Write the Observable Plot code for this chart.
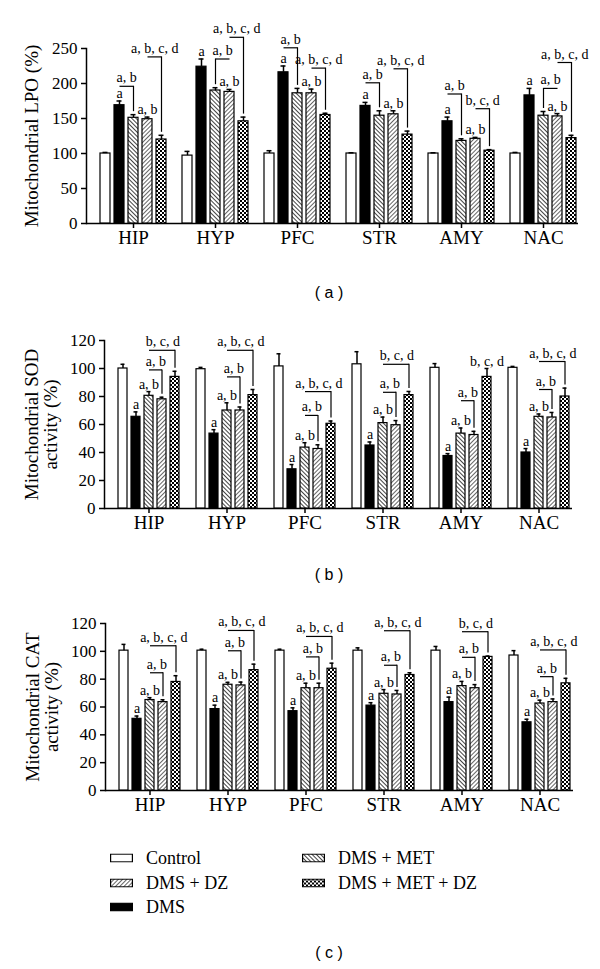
<!DOCTYPE html>
<html><head><meta charset="utf-8">
<script src="https://cdn.jsdelivr.net/npm/d3@7"></script>
<script src="https://cdn.jsdelivr.net/npm/@observablehq/plot@0.6"></script>
<style>
body{margin:0;background:#fff;}
#page{position:relative;width:600px;height:969px;font-family:'Liberation Serif',serif;color:#000;overflow:hidden;}
.panel{position:absolute;left:0;}
.cap{position:absolute;font-family:'Liberation Sans',Arial,sans-serif;font-size:16px;transform:translate(-50%,-50%);white-space:pre;}
.leg{position:absolute;display:flex;align-items:center;font-size:18px;transform:translateY(-50%);white-space:nowrap;}
.leg svg{margin-right:13px;}
</style></head>
<body>
<svg width="0" height="0" style="position:absolute">
<defs>
<pattern id="hatchMET" width="3" height="3" patternUnits="userSpaceOnUse" patternTransform="rotate(-45)">
<rect width="3" height="3" fill="#fff"/><line x1="0.5" y1="0" x2="0.5" y2="3" stroke="#444" stroke-width="1"/></pattern>
<pattern id="hatchDZ" width="3" height="3" patternUnits="userSpaceOnUse" patternTransform="rotate(45)">
<rect width="3" height="3" fill="#fff"/><line x1="0.5" y1="0" x2="0.5" y2="3" stroke="#555" stroke-width="0.9"/></pattern>
<pattern id="checker" width="4" height="4" patternUnits="userSpaceOnUse">
<rect width="4" height="4" fill="#000"/><rect width="2" height="2" fill="#fff"/><rect x="2" y="2" width="2" height="2" fill="#fff"/></pattern>
</defs></svg>
<div id="page"></div>
<script>
const regions = ["HIP", "HYP", "PFC", "STR", "AMY", "NAC"];
const treatments = ["Control", "DMS", "DMS + MET", "DMS + DZ", "DMS + MET + DZ"];

// (a) Mitochondrial LPO (%)
const lpoControl = [100, 97, 100, 100, 100, 100];
const lpoControlErr = [1.5, 6, 4, 1, 1, 1.5];
const lpoDMS = [169, 224, 216, 168, 146, 183];
const lpoDMSErr = [6, 11, 9, 5, 6, 10];
const lpoMET = [151, 190, 186, 154, 118, 154];
const lpoMETErr = [4.5, 4, 7, 7, 3, 6];
const lpoDZ = [149, 188, 186, 156, 121, 153];
const lpoDZErr = [3, 3.5, 6, 5, 2, 4];
const lpoMETDZ = [120, 146, 155, 127, 104, 122];
const lpoMETDZErr = [6, 6, 2.5, 5, 1.5, 4];
const lpoBarLabels = [
  ["HIP", "DMS", "a"], ["HYP", "DMS", "a"], ["PFC", "DMS", "a"], ["STR", "DMS", "a"], ["AMY", "DMS", "a"], ["NAC", "DMS", "a"],
  ["HIP", "DMS + DZ", "a, b"], ["HYP", "DMS + DZ", "a, b"], ["PFC", "DMS + DZ", "a, b"], ["STR", "DMS + DZ", "a, b"], ["AMY", "DMS + DZ", "a, b"], ["NAC", "DMS + DZ", "a, b"]
];
const lpoBrackets = [
  ["HIP", "DMS", "DMS + MET", 196, "a, b"],
  ["HIP", "DMS + DZ", "DMS + MET + DZ", 238, "a, b, c, d"],
  ["HYP", "DMS + DZ", "DMS + MET", 235, "a, b"],
  ["HYP", "DMS + DZ", "DMS + MET + DZ", 266, "a, b, c, d"],
  ["PFC", "DMS", "DMS + MET", 251, "a, b"],
  ["PFC", "DMS + DZ", "DMS + MET + DZ", 222, "a, b, c, d"],
  ["STR", "DMS", "DMS + MET", 201, "a, b"],
  ["STR", "DMS + DZ", "DMS + MET + DZ", 221, "a, b, c, d"],
  ["AMY", "DMS", "DMS + MET", 185, "a, b"],
  ["AMY", "DMS + DZ", "DMS + MET + DZ", 164, "b, c, d"],
  ["NAC", "DMS + DZ", "DMS + MET", 193, "a, b"],
  ["NAC", "DMS + DZ", "DMS + MET + DZ", 230, "a, b, c, d"]
];

// (b) Mitochondrial SOD activity (%)
const sodControl = [100, 99.5, 101.5, 103, 100.5, 100.5];
const sodControlErr = [3, 1.3, 9, 9, 3, 1];
const sodDMS = [65.5, 53.5, 28, 45, 37.5, 40];
const sodDMSErr = [3.5, 2.8, 3.4, 2.5, 1.7, 2.8];
const sodMET = [80.5, 70, 43.5, 61, 53.5, 65.5];
const sodMETErr = [3, 5.5, 3.5, 4.3, 4, 2];
const sodDZ = [78, 70, 42.5, 59.5, 52.5, 65];
const sodDZErr = [1.5, 2.5, 3, 3.3, 2.6, 3.6];
const sodMETDZ = [94, 81, 60.5, 81, 94, 80];
const sodMETDZErr = [4, 4, 2, 2.6, 6, 6];
const sodBarLabels = [
  ["HIP", "DMS", "a"], ["HYP", "DMS", "a"], ["PFC", "DMS", "a"], ["STR", "DMS", "a"], ["AMY", "DMS", "a"], ["NAC", "DMS", "a"],
  ["HIP", "DMS + MET", "a, b"], ["HYP", "DMS + MET", "a, b"], ["PFC", "DMS + MET", "a, b"], ["STR", "DMS + MET", "a, b"], ["AMY", "DMS + MET", "a, b"], ["NAC", "DMS + MET", "a, b"],
  ["AMY", "DMS + MET + DZ", "b, c, d"]
];
const sodBrackets = [
  ["HIP", "DMS + MET", "DMS + DZ", 99, "a, b"],
  ["HIP", "DMS + MET", "DMS + MET + DZ", 113, "b, c, d"],
  ["HYP", "DMS + MET", "DMS + DZ", 94, "a, b"],
  ["HYP", "DMS + MET", "DMS + MET + DZ", 113, "a, b, c, d"],
  ["PFC", "DMS + MET", "DMS + DZ", 66.5, "a, b"],
  ["PFC", "DMS + MET", "DMS + MET + DZ", 83.5, "a, b, c, d"],
  ["STR", "DMS + MET", "DMS + DZ", 83, "a, b"],
  ["STR", "DMS + MET", "DMS + MET + DZ", 103, "b, c, d"],
  ["AMY", "DMS + MET", "DMS + DZ", 77, "a, b"],
  ["NAC", "DMS + MET", "DMS + DZ", 85, "a, b"],
  ["NAC", "DMS + MET", "DMS + MET + DZ", 105, "a, b, c, d"]
];

// (c) Mitochondrial CAT activity (%)
const catControl = [100.5, 100.5, 100.5, 100.5, 100.5, 97];
const catControlErr = [4.5, 1, 1, 2, 3, 3.5];
const catDMS = [51.5, 58.5, 57, 61, 63.5, 49];
const catDMSErr = [2, 2.8, 2.4, 2.1, 3.6, 2.2];
const catMET = [65, 76, 73.5, 69.5, 75, 62.5];
const catMETErr = [1.7, 1.7, 3.6, 3, 3.4, 2.4];
const catDZ = [63.5, 75.5, 73.5, 69, 73.5, 63.5];
const catDZErr = [1.7, 2.4, 3.6, 2.9, 2.6, 2.3];
const catMETDZ = [78, 86.5, 87.5, 83, 96, 77];
const catMETDZErr = [4.5, 4.3, 4, 1.6, 0.6, 3.6];
const catBarLabels = [
  ["HIP", "DMS", "a"], ["HYP", "DMS", "a"], ["PFC", "DMS", "a"], ["STR", "DMS", "a"], ["AMY", "DMS", "a"], ["NAC", "DMS", "a"],
  ["HIP", "DMS + MET", "a, b"], ["HYP", "DMS + MET", "a, b"], ["PFC", "DMS + MET", "a, b"], ["STR", "DMS + MET", "a, b"], ["AMY", "DMS + MET", "a, b"], ["NAC", "DMS + MET", "a, b"]
];
const catBrackets = [
  ["HIP", "DMS + MET", "DMS + DZ", 84.6, "a, b"],
  ["HIP", "DMS + MET", "DMS + MET + DZ", 104, "a, b, c, d"],
  ["HYP", "DMS + MET", "DMS + DZ", 100.4, "a, b"],
  ["HYP", "DMS + MET", "DMS + MET + DZ", 115, "a, b, c, d"],
  ["PFC", "DMS + MET", "DMS + DZ", 96, "a, b"],
  ["PFC", "DMS + MET", "DMS + MET + DZ", 110.7, "a, b, c, d"],
  ["STR", "DMS + MET", "DMS + DZ", 90, "a, b"],
  ["STR", "DMS + MET", "DMS + MET + DZ", 114.8, "a, b, c, d"],
  ["AMY", "DMS + MET", "DMS + DZ", 95.7, "a, b"],
  ["AMY", "DMS + MET", "DMS + MET + DZ", 114.1, "b, c, d"],
  ["NAC", "DMS + MET", "DMS + DZ", 81.8, "a, b"],
  ["NAC", "DMS + MET", "DMS + MET + DZ", 101, "a, b, c, d"]
];

// styles
const fills = ["#fff", "#000", "url(#hatchMET)", "url(#hatchDZ)", "url(#checker)"];
const legendOrder = [["Control", 0], ["DMS + DZ", 3], ["DMS", 1], ["DMS + MET", 2], ["DMS + MET + DZ", 4]];

function table(vals, errs) {
  return treatments.flatMap((t, j) => regions.map((r, i) => ({region: r, treatment: t, value: vals[j][i], err: errs[j][i]})));
}

function panel({rows, barLabels, brackets, yDomain, yTicks, yLabel, height, marginTop, marginBottom, marginLeft, fxStep, labelDx}) {
  const gap = 2, pIn = 0.31, pOut = 0.42;
  const marginRight = 600 - marginLeft - (regions.length * fxStep - gap);
  const innerStep = (fxStep - gap) / (treatments.length - pIn + 2 * pOut);
  const key = (r, t) => r + "|" + t;
  const tops = new Map(rows.map(d => [key(d.region, d.treatment), d.value + d.err]));
  const idx = t => treatments.indexOf(t);
  const labels = barLabels.map(([region, treatment, label]) => ({region, treatment, label, y: tops.get(key(region, treatment))}));
  const br = brackets.map(([region, from, to, level, label]) => ({
    region, from, to, level, label,
    end: tops.get(key(region, to)),
    left: idx(from) < idx(to) ? from : to,
    span: Math.abs(idx(to) - idx(from))
  }));
  return Plot.plot({
    width: 600, height, marginTop, marginBottom, marginLeft, marginRight,
    style: {fontFamily: "'Liberation Serif', serif", fontSize: "17px", color: "#000", background: "transparent", overflow: "visible"},
    fx: {domain: regions, paddingInner: gap / fxStep, paddingOuter: 0, align: 0, axis: null, label: null},
    x: {type: "band", domain: treatments, paddingInner: pIn, paddingOuter: pOut, align: 0.95},
    y: {domain: yDomain},
    color: {type: "identity"},
    marks: [
      Plot.ruleY([0], {insetRight: -gap, strokeWidth: 1.5}),
      Plot.frame({anchor: "left", facetAnchor: "left", strokeWidth: 1.5}),
      Plot.barY(rows, {fx: "region", x: "treatment", y: "value", fill: d => fills[idx(d.treatment)], stroke: "#000", strokeWidth: 1.2}),
      Plot.ruleX(rows, {fx: "region", x: "treatment", y1: "value", y2: d => d.value + d.err, strokeWidth: 1.5}),
      Plot.tickY(rows, {fx: "region", x: "treatment", y: d => d.value + d.err, strokeWidth: 1.5, insetLeft: 2.5, insetRight: 2.5}),
      Plot.axisY({ticks: yTicks, tickSize: 5, tickPadding: 4, fontSize: 17, strokeWidth: 1.5, label: null}),
      Plot.text([yLabel], {text: d => d, frameAnchor: "left", facetAnchor: "left", rotate: -90, dx: labelDx, textAnchor: "middle", lineAnchor: "bottom", fontSize: 19}),
      Plot.axisX({ticks: [treatments[2]], tickSize: 5, strokeWidth: 1.5, tickFormat: () => "", label: null}),
      Plot.text(regions, {fx: d => d, x: () => treatments[2], text: d => d, frameAnchor: "bottom", dy: 20, fontSize: 19}),
      Plot.text(labels, {fx: "region", x: "treatment", y: "y", text: "label", lineAnchor: "bottom", dy: -3, fontSize: 14}),
      Plot.link(br, {fx: "region", x1: "from", x2: "to", y1: "level", y2: "level", strokeWidth: 1.2}),
      Plot.ruleX(br, {fx: "region", x: "to", y1: "level", y2: "end", insetBottom: 3, strokeWidth: 1.2}),
      ...[1, 2].map(s => Plot.text(br.filter(d => d.span === s), {fx: "region", x: "left", y: "level", text: "label", dx: s * innerStep / 2, lineAnchor: "bottom", dy: -4, fontSize: 14}))
    ]
  });
}

const page = document.getElementById("page");
function place(node, top) {
  const div = document.createElement("div");
  div.className = "panel";
  div.style.top = top + "px";
  div.appendChild(node);
  page.appendChild(div);
}
function caption(text, x, y) {
  const d = document.createElement("div");
  d.className = "cap";
  d.style.left = x + "px"; d.style.top = y + "px";
  d.textContent = text;
  page.appendChild(d);
}

place(panel({
  rows: table([lpoControl, lpoDMS, lpoMET, lpoDZ, lpoMETDZ], [lpoControlErr, lpoDMSErr, lpoMETErr, lpoDZErr, lpoMETDZErr]),
  barLabels: lpoBarLabels, brackets: lpoBrackets,
  yDomain: [0, 250], yTicks: [0, 50, 100, 150, 200, 250], yLabel: "Mitochondrial LPO (%)",
  height: 262, marginTop: 48, marginBottom: 39, marginLeft: 86, fxStep: 82, labelDx: -49
}), 0);
caption("( a )", 329, 293);

place(panel({
  rows: table([sodControl, sodDMS, sodMET, sodDZ, sodMETDZ], [sodControlErr, sodDMSErr, sodMETErr, sodDZErr, sodMETDZErr]),
  barLabels: sodBarLabels, brackets: sodBrackets,
  yDomain: [0, 120], yTicks: [0, 20, 40, 60, 80, 100, 120], yLabel: "Mitochondrial SOD\nactivity (%)",
  height: 243, marginTop: 40, marginBottom: 35, marginLeft: 104, fxStep: 78.8, labelDx: -48
}), 300);
caption("( b )", 329, 575);

place(panel({
  rows: table([catControl, catDMS, catMET, catDZ, catMETDZ], [catControlErr, catDMSErr, catMETErr, catDZErr, catMETDZErr]),
  barLabels: catBarLabels, brackets: catBrackets,
  yDomain: [0, 120], yTicks: [0, 20, 40, 60, 80, 100, 120], yLabel: "Mitochondrial CAT\nactivity (%)",
  height: 243, marginTop: 40, marginBottom: 36, marginLeft: 105, fxStep: 78.6, labelDx: -48
}), 583);

// legend
const legendPos = [[110, 858], [110, 883], [110, 907], [302, 858], [302, 883]];
legendOrder.forEach(([name, k], i) => {
  const d = document.createElement("div");
  d.className = "leg";
  d.style.left = legendPos[i][0] + "px"; d.style.top = legendPos[i][1] + "px";
  d.innerHTML = `<svg width="23" height="9"><rect x="0.6" y="0.6" width="21.8" height="7.8" fill="${fills[k]}" stroke="#000" stroke-width="1.2"/></svg><span></span>`;
  d.querySelector("span").textContent = name;
  page.appendChild(d);
});
caption("( c )", 329, 953);
</script>
</body></html>
